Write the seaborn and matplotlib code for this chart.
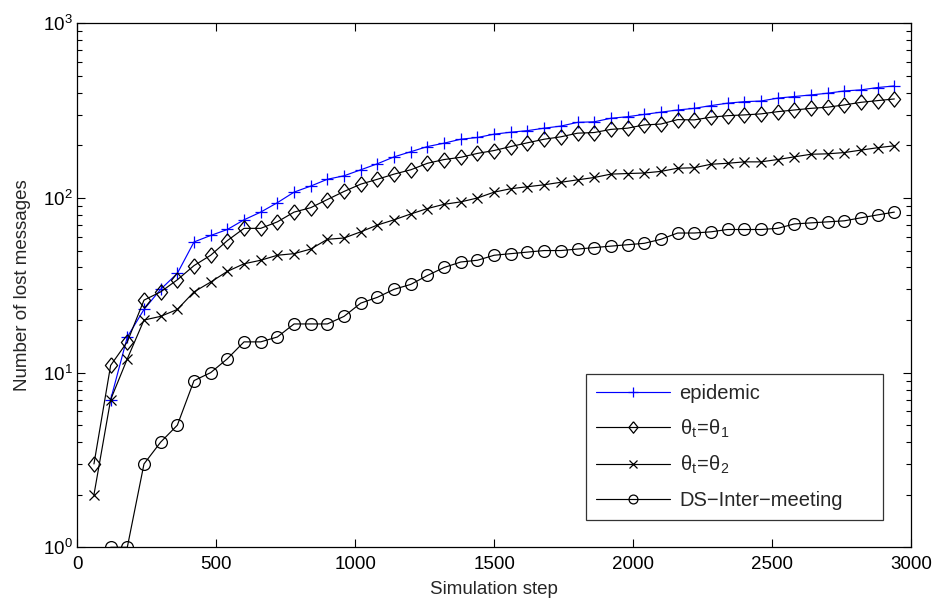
import numpy as np
import pandas as pd
import matplotlib
matplotlib.use("Agg")
import matplotlib.pyplot as plt
import seaborn as sns
from matplotlib.ticker import FixedLocator, FixedFormatter, LogLocator, NullFormatter

# ---- data ----
steps = [60, 120, 180, 240, 300, 360, 420, 480, 540, 600,
         660, 720, 780, 840, 900, 960, 1020, 1080, 1140, 1200,
         1260, 1320, 1380, 1440, 1500, 1560, 1620, 1680, 1740, 1800,
         1860, 1920, 1980, 2040, 2100, 2160, 2220, 2280, 2340, 2400,
         2460, 2520, 2580, 2640, 2700, 2760, 2820, 2880, 2940]

epidemic = [np.nan, 7, 16, 23, 30, 37, 56, 61, 66, 75,
            83, 94, 108, 117, 128, 134, 145, 157, 172, 184,
            197, 206, 217, 222, 232, 238, 243, 251, 258, 271,
            273, 286, 292, 301, 310, 319, 326, 338, 349, 356,
            359, 373, 381, 389, 398, 410, 416, 429, 438]

theta1 = [3, 11, 15, 26, 29, 34, 41, 47, 57, 67,
          67, 73, 83, 88, 98, 109, 120, 128, 137, 145,
          158, 166, 171, 180, 187, 197, 207, 217, 224, 235,
          237, 247, 251, 262, 265, 281, 280, 290, 296, 299,
          303, 312, 319, 326, 331, 341, 353, 361, 369]

theta2 = [2, 7, 12, 20, 21, 23, 29, 33, 38, 42,
          44, 47, 48, 51, 58, 59, 64, 70, 75, 81,
          87, 92, 95, 100, 108, 113, 116, 119, 123, 127,
          131, 137, 138, 139, 142, 148, 149, 156, 158, 161,
          161, 166, 172, 178, 179, 182, 188, 194, 199]

ds_inter = [np.nan, 1, 1, 3, 4, 5, 9, 10, 12, 15,
            15, 16, 19, 19, 19, 21, 25, 27, 30, 32,
            36, 40, 43, 44, 47, 48, 49, 50, 50, 51,
            52, 53, 54, 55, 58, 63, 63, 64, 66, 66,
            66, 67, 71, 72, 73, 74, 77, 80, 83]

labels = ["epidemic", r"$\mathregular{\theta_t\!=\!\theta_1}$",
          r"$\mathregular{\theta_t\!=\!\theta_2}$", "DS\u2212Inter\u2212meeting"]
x_ticks = [0, 500, 1000, 1500, 2000, 2500, 3000]
y_ticks = [1, 10, 100, 1000]
y_tick_labels = [r"$\mathregular{10^{0}}$", r"$\mathregular{10^{1}}$",
                 r"$\mathregular{10^{2}}$", r"$\mathregular{10^{3}}$"]

# ---- style ----
sns.set_style("ticks")
plt.rcParams["font.family"] = ["Liberation Sans", "DejaVu Sans"]
plt.rcParams["mathtext.fontset"] = "custom"
plt.rcParams["mathtext.rm"] = "Liberation Sans"
plt.rcParams["mathtext.it"] = "Liberation Sans:italic"
plt.rcParams["axes.unicode_minus"] = True

FS = 13.5
LFS = 14.5
fig = plt.figure(figsize=(9.39, 6.06), dpi=100)
ax = fig.add_axes([0.0823, 0.0969, 0.9702 - 0.0823, 0.9615 - 0.0969])

diamond = [(0, 1), (0.8, 0), (0, -1), (-0.8, 0), (0, 1)]
series = [epidemic, theta1, theta2, ds_inter]
styles = [
    dict(color="#0000ff", marker="+", markersize=9, mew=0.9, mfc="none"),
    dict(color="black", marker=diamond, markersize=11, mew=0.9, mfc="none"),
    dict(color="black", marker="x", markersize=7, mew=0.9, mfc="none"),
    dict(color="black", marker="o", markersize=8.5, mew=0.9, mfc="none"),
]
for vals, lab, st in zip(series, labels, styles):
    df = pd.DataFrame({"step": steps, "lost": vals}).dropna()
    sns.lineplot(data=df, x="step", y="lost", ax=ax, label=lab,
                 linewidth=0.85, markeredgecolor=st["color"], **st)

ax.set_yscale("log")
ax.set_xlim(0, 3000)
ax.set_ylim(1, 1000)
ax.xaxis.set_major_locator(FixedLocator(x_ticks))
ax.xaxis.set_major_formatter(FixedFormatter([str(t) for t in x_ticks]))
ax.yaxis.set_major_locator(FixedLocator(y_ticks))
ax.yaxis.set_major_formatter(FixedFormatter(y_tick_labels))
ax.yaxis.set_minor_locator(LogLocator(base=10, subs=np.arange(2, 10)))
ax.yaxis.set_minor_formatter(NullFormatter())
ax.tick_params(which="both", direction="in", top=True, right=True,
               labelsize=FS, width=0.8, colors="black")
ax.tick_params(which="major", length=6)
ax.tick_params(which="minor", length=3.5)
ax.tick_params(axis="x", pad=6)
for sp in ax.spines.values():
    sp.set_linewidth(0.9)
    sp.set_color("black")

ax.set_xlabel("Simulation step", fontsize=FS, labelpad=6)
ax.set_ylabel("Number of lost messages", fontsize=FS, labelpad=8)

leg = ax.legend(loc="lower left", bbox_to_anchor=(0.610, 0.052, 0.356, 0.2),
                mode="expand", fontsize=LFS,
                frameon=True, fancybox=False, edgecolor="black",
                handlelength=3.7, borderpad=0.5, labelspacing=0.72,
                handletextpad=0.45, borderaxespad=0)
leg.get_frame().set_linewidth(0.9)
for h in leg.legend_handles:
    h.set_markersize(h.get_markersize() * 0.75)

fig.savefig("out.png", dpi=100)
